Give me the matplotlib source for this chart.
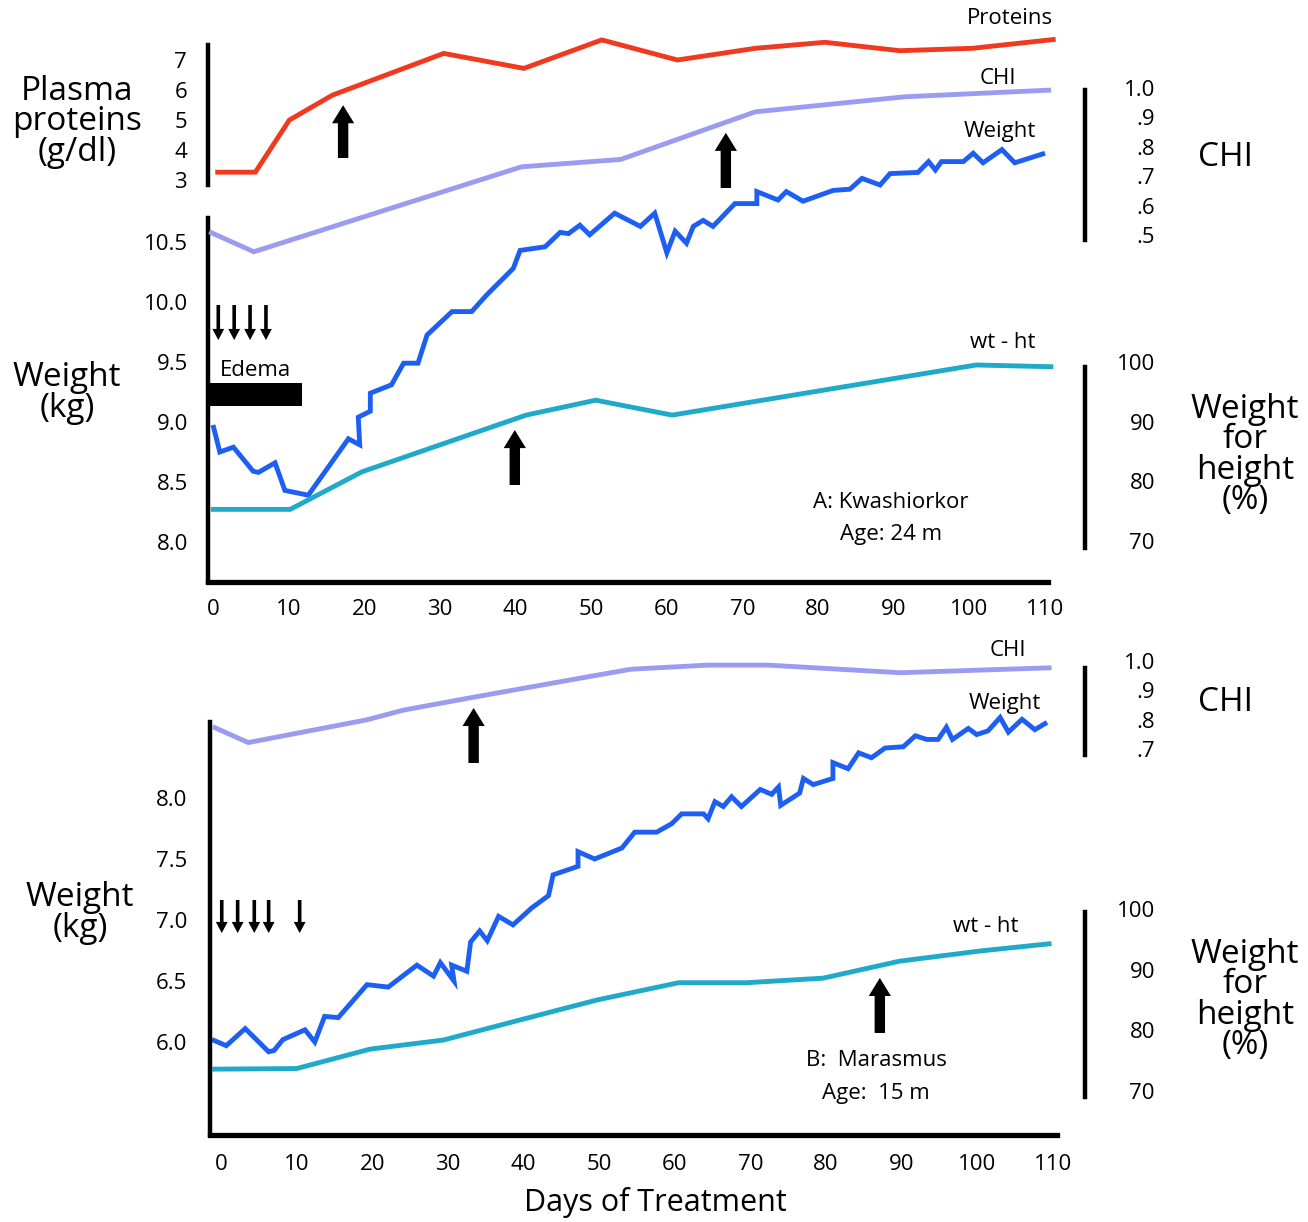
import matplotlib
matplotlib.use('Agg')
from matplotlib import pyplot as plt

plt.rcParams['font.family'] = ['Open Sans', 'DejaVu Sans']

# ---------------- A: kwashiorkor (age 24 m) ----------------
protein_days = [0.3, 5.6, 10.1, 15.8, 30.5, 41.1, 51.4, 61.4, 71.7, 80.9, 90.8, 100.4, 111.4]
protein_a = [3.26, 3.26, 5.0, 5.83, 7.22, 6.72, 7.67, 7.0, 7.39, 7.59, 7.31, 7.39, 7.69]

chi_a_days = [-0.5, 5.4, 40.8, 53.9, 71.7, 91.4, 110.8]
chi_a = [0.511, 0.443, 0.732, 0.757, 0.919, 0.970, 0.993]

wtht_a_days = [-0.3, 10.2, 19.7, 41.4, 50.6, 60.7, 100.9, 111.1]
wtht_a = [75.3, 75.3, 81.6, 91.1, 93.6, 91.1, 99.5, 99.2]

weight_a_days = [0, 0.9, 2.7, 5.3, 6.0, 8.2, 9.5, 12.6, 17.9, 19.4, 19.2, 20.8, 20.8,
                 23.6, 25.2, 27.1, 28.3, 31.6, 34.2, 36.2, 39.7, 40.6, 43.9, 45.9,
                 47.0, 48.5, 49.8, 53.1, 56.5, 58.4, 60.0, 61.1, 62.6, 63.5, 64.8,
                 66.1, 69.0, 71.9, 71.9, 74.7, 75.8, 78.0, 82.0, 84.2, 85.8, 88.2,
                 89.5, 93.2, 94.6, 95.5, 96.3, 99.2, 100.5, 101.8, 104.3, 106.0, 110.0]
weight_a = [8.975, 8.75, 8.79, 8.59, 8.58, 8.66, 8.43, 8.39, 8.86, 8.81, 9.04, 9.09, 9.24,
            9.31, 9.49, 9.49, 9.725, 9.92, 9.92, 10.06, 10.28, 10.43, 10.46, 10.58,
            10.57, 10.64, 10.56, 10.74, 10.63, 10.74, 10.41, 10.59, 10.49, 10.63, 10.68,
            10.63, 10.82, 10.82, 10.92, 10.85, 10.92, 10.84, 10.93, 10.94, 11.03, 10.975,
            11.07, 11.08, 11.17, 11.10, 11.17, 11.17, 11.24, 11.16, 11.27, 11.16, 11.24]

edema_a = (-0.6, 11.8)          # days with edema
doses_a = [0.7, 2.8, 4.9, 7.0]  # small arrows
marks_a = [(17.2, 'protein'), (67.8, 'chi'), (39.9, 'wtht')]

# ---------------- B: marasmus (age 15 m) ----------------
chi_b_days = [-1.1, 3.6, 19.2, 24.2, 33.7, 48.7, 54.2, 64.4, 72.3, 89.8, 109.8]
chi_b = [0.776, 0.722, 0.799, 0.833, 0.878, 0.947, 0.972, 0.986, 0.986, 0.960, 0.977]

wtht_b_days = [-1.2, 10.0, 19.7, 29.4, 39.5, 49.7, 60.5, 69.5, 79.6, 89.7, 100.5, 109.8]
wtht_b = [73.6, 73.7, 76.9, 78.4, 81.7, 85.0, 87.85, 87.85, 88.6, 91.4, 93.1, 94.3]

weight_b_days = [-1.2, 0.7, 3.2, 6.3, 7.0, 8.2, 11.1, 12.4, 13.7, 15.5, 19.3, 22.1, 25.9,
                 28.1, 29.0, 30.8, 30.5, 32.5, 33.0, 34.2, 35.2, 36.7, 38.6, 41.1, 43.3,
                 43.9, 47.2, 47.2, 49.4, 53.0, 54.7, 57.6, 59.6, 60.9, 63.8, 64.4, 65.3,
                 66.4, 67.5, 68.8, 71.3, 72.8, 73.7, 74.0, 76.5, 77.0, 78.3, 80.9, 80.9,
                 82.9, 84.3, 86.0, 87.8, 90.2, 91.8, 93.3, 94.8, 95.9, 96.7, 98.8, 99.9,
                 101.4, 103.0, 104.1, 105.9, 107.6, 109.2]
weight_b = [6.02, 5.97, 6.11, 5.92, 5.93, 6.02, 6.10, 6.00, 6.21, 6.20, 6.47, 6.45, 6.63,
            6.54, 6.65, 6.50, 6.63, 6.58, 6.82, 6.91, 6.83, 7.03, 6.96, 7.10, 7.20,
            7.37, 7.44, 7.56, 7.50, 7.59, 7.72, 7.72, 7.79, 7.87, 7.87, 7.83, 7.97,
            7.93, 8.01, 7.93, 8.07, 8.03, 8.09, 7.94, 8.04, 8.16, 8.11, 8.16, 8.29,
            8.24, 8.37, 8.33, 8.41, 8.42, 8.51, 8.48, 8.48, 8.58, 8.48, 8.57, 8.52,
            8.55, 8.66, 8.54, 8.645, 8.56, 8.62]

doses_b = [0.1, 2.2, 4.4, 6.3, 10.4]
marks_b = [(33.4, 'chi'), (87.1, 'wtht')]

day_ticks = list(range(0, 111, 10))

RED = '#f03a1f'
LILAC = '#9a9cf2'
BLUE = '#1d5ff2'
TEAL = '#20a9c9'

W, H = 1308, 1222
PPD = 7.564  # pixels per day
fig = plt.figure(figsize=(W / 100, H / 100), dpi=100)


def place(left, right, top, bottom):
    return fig.add_axes([left / W, 1 - bottom / H, (right - left) / W, (bottom - top) / H])


def ylim_from(v1, p1, v2, p2, top, bottom):
    k = (v2 - v1) / (p2 - p1)
    return v1 + (bottom - p1) * k, v1 + (top - p1) * k


def ptext(x, y, s, size=16, **kw):
    fig.text(x / W, 1 - y / H, s, fontsize=size, ha='center', va='center', **kw)


def y_axis(ax, side, ticks, labels, bounds, pad_px, pos=None):
    for s in ax.spines.values():
        s.set_visible(False)
    sp = ax.spines[side]
    sp.set_visible(True)
    sp.set_linewidth(3.2)
    sp.set_bounds(*bounds)
    if pos is not None:
        sp.set_position(('axes', pos))
    ax.yaxis.set_ticks_position(side)
    ax.set_yticks(ticks)
    ax.set_yticklabels(labels)
    ax.tick_params(axis='y', length=0, pad=pad_px * 0.72, labelsize=16)
    if side == 'right':
        for t in ax.get_yticklabels():
            t.set_horizontalalignment('right')


def panel(left, right, top, bottom, day0, xpad):
    ax = place(left, right, top, bottom)
    ax.set_xlim((left - day0) / PPD, (right - day0) / PPD)
    ax.patch.set_alpha(0)
    ax.spines['top'].set_visible(False)
    ax.spines['right'].set_visible(False)
    ax.spines['bottom'].set_linewidth(3.8)
    ax.spines['left'].set_linewidth(3.2)
    ax.set_xticks(day_ticks)
    ax.set_xticklabels([str(d) for d in day_ticks])
    ax.tick_params(axis='x', length=0, pad=xpad, labelsize=16)
    return ax


def big_arrow(ax, x, y0, y1):
    ax.annotate('', xy=(x, y1), xytext=(x, y0),
                arrowprops=dict(arrowstyle='simple,head_length=13,head_width=16,tail_width=7.5',
                                mutation_scale=1, fc='black', ec='none',
                                shrinkA=0, shrinkB=0))


def small_arrow(ax, x, y0, y1):
    ax.annotate('', xy=(x, y1), xytext=(x, y0),
                arrowprops=dict(arrowstyle='simple,head_length=8,head_width=8.5,tail_width=2.6',
                                mutation_scale=1, fc='black', ec='none',
                                shrinkA=0, shrinkB=0))


line_kw = dict(lw=3.5, clip_on=False, solid_joinstyle='miter', solid_capstyle='butt')

# ================= panel A =================
TOP_A, BOT_A, L_A, R_A = 20, 582, 208, 1048
ax_w = panel(L_A, R_A, TOP_A, BOT_A, 213, 12)
ax_w.set_ylim(*ylim_from(8.0, 542, 10.5, 242, TOP_A, BOT_A))
ax_w.spines['left'].set_bounds(ax_w.get_ylim()[0], 10.7)
ax_w.set_yticks([8.0, 8.5, 9.0, 9.5, 10.0, 10.5])
ax_w.set_yticklabels(['8.0', '8.5', '9.0', '9.5', '10.0', '10.5'])
ax_w.tick_params(axis='y', length=0, pad=20 * 0.72, labelsize=16)

ax_p = ax_w.twinx()
ax_p.set_ylim(*ylim_from(3, 180, 7, 60, TOP_A, BOT_A))
y_axis(ax_p, 'left', [3, 4, 5, 6, 7], ['3', '4', '5', '6', '7'], (2.83, 7.5), 21)

ax_c = ax_w.twinx()
ax_c.set_ylim(*ylim_from(0.5, 235, 1.0, 88, TOP_A, BOT_A))
y_axis(ax_c, 'right', [0.5, 0.6, 0.7, 0.8, 0.9, 1.0],
       ['.5', '.6', '.7', '.8', '.9', '1.0'], (0.483, 0.993), 70,
       pos=(1085 - L_A) / (R_A - L_A))

ax_h = ax_w.twinx()
ax_h.set_ylim(*ylim_from(70, 541, 100, 362, TOP_A, BOT_A))
y_axis(ax_h, 'right', [70, 80, 90, 100], ['70', '80', '90', '100'], (68.8, 99.2), 70,
       pos=(1085 - L_A) / (R_A - L_A))

ax_p.plot(protein_days, protein_a, color=RED, **line_kw)
ax_c.plot(chi_a_days, chi_a, color=LILAC, **line_kw)
ax_h.plot(wtht_a_days, wtht_a, color=TEAL, **line_kw)
ax_w.plot(weight_a_days, weight_a, color=BLUE, **line_kw)

ax_w.fill_between(edema_a, 9.135, 9.325, color='black', lw=0, clip_on=False)
for d in doses_a:
    small_arrow(ax_w, d, 9.975, 9.683)
arrow_y_a = {'protein': (11.2, 11.64), 'chi': (10.95, 11.41), 'wtht': (8.475, 8.933)}
for d, key in marks_a:
    big_arrow(ax_w, d, *arrow_y_a[key])

# ================= panel B =================
TOP_B, BOT_B, L_B, R_B = 640, 1135, 210, 1057
bx_w = panel(L_B, R_B, TOP_B, BOT_B, 221, 14)
bx_w.set_ylim(*ylim_from(6.0, 1042, 8.0, 798, TOP_B, BOT_B))
bx_w.spines['left'].set_bounds(bx_w.get_ylim()[0], 8.62)
bx_w.set_yticks([6.0, 6.5, 7.0, 7.5, 8.0])
bx_w.set_yticklabels(['6.0', '6.5', '7.0', '7.5', '8.0'])
bx_w.tick_params(axis='y', length=0, pad=23 * 0.72, labelsize=16)

bx_c = bx_w.twinx()
bx_c.set_ylim(*ylim_from(0.7, 749, 1.0, 661, TOP_B, BOT_B))
y_axis(bx_c, 'right', [0.7, 0.8, 0.9, 1.0], ['.7', '.8', '.9', '1.0'], (0.68, 0.976), 70,
       pos=(1085 - L_B) / (R_B - L_B))

bx_h = bx_w.twinx()
bx_h.set_ylim(*ylim_from(70, 1091, 100, 909, TOP_B, BOT_B))
y_axis(bx_h, 'right', [70, 80, 90, 100], ['70', '80', '90', '100'], (69.0, 99.5), 70,
       pos=(1085 - L_B) / (R_B - L_B))

bx_c.plot(chi_b_days, chi_b, color=LILAC, **line_kw)
bx_h.plot(wtht_b_days, wtht_b, color=TEAL, **line_kw)
bx_w.plot(weight_b_days, weight_b, color=BLUE, **line_kw)

for d in doses_b:
    small_arrow(bx_w, d, 7.164, 6.893)
arrow_y_b = {'chi': (8.287, 8.738), 'wtht': (6.074, 6.525)}
for d, key in marks_b:
    big_arrow(bx_w, d, *arrow_y_b[key])

# ================= text =================
big = dict(size=24, linespacing=0.9)
ptext(77, 122, 'Plasma\nproteins\n(g/dl)', **big)
ptext(67, 393, 'Weight\n(kg)', **big)
ptext(80, 913, 'Weight\n(kg)', **big)
ptext(1225, 157, 'CHI', size=24)
ptext(1225, 702, 'CHI', size=24)
ptext(1245, 455, 'Weight\nfor\nheight\n(%)', **big)
ptext(1245, 1000, 'Weight\nfor\nheight\n(%)', **big)
ptext(655, 1203, 'Days of Treatment', size=22)

ptext(1010, 18, 'Proteins')
ptext(998, 78, 'CHI')
ptext(1000, 131, 'Weight')
ptext(1003, 343, 'wt - ht')
ptext(255, 371, 'Edema')
ptext(891, 502, 'A: Kwashiorkor')
ptext(891, 534, 'Age: 24 m')

ptext(1008, 650, 'CHI')
ptext(1005, 704, 'Weight')
ptext(986, 927, 'wt - ht')
ptext(876, 1060, 'B:  Marasmus')
ptext(876, 1093, 'Age:  15 m')

fig.savefig('out.png', dpi=100)
